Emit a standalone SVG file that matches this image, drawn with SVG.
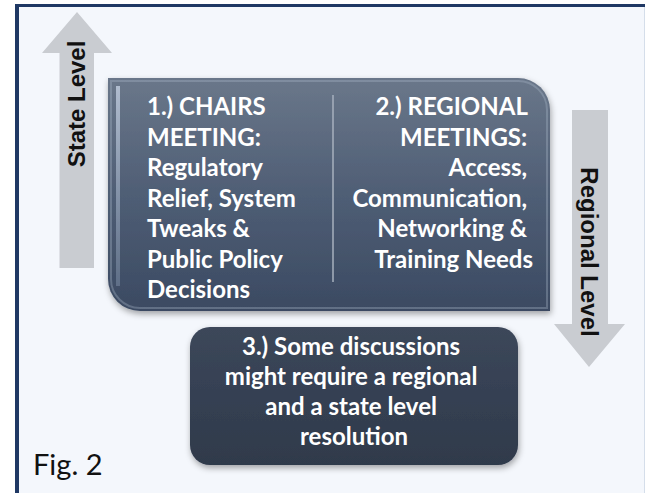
<svg xmlns="http://www.w3.org/2000/svg" width="645" height="493" viewBox="0 0 645 493">
<defs>
<style>
.box-text{font-family:Lato,"Open Sans",sans-serif;font-weight:bold;font-size:24px;fill:#FFFFFF}
.arrow-text{font-family:"Liberation Sans",Arial,sans-serif;font-weight:bold;font-size:24px;fill:#111111}
.arrow{fill:#C9CCD1}
</style>
<linearGradient id="gMain" x1="0" y1="0" x2="0" y2="1">
<stop offset="0" stop-color="#6A778A"/>
<stop offset="0.5" stop-color="#4F5E75"/>
<stop offset="1" stop-color="#3B4A62"/>
</linearGradient>
<linearGradient id="gBottom" x1="0" y1="0" x2="0" y2="1">
<stop offset="0" stop-color="#3C475A"/>
<stop offset="1" stop-color="#2F3A4B"/>
</linearGradient>
<linearGradient id="gStripe" x1="0" y1="0" x2="0" y2="1">
<stop offset="0" stop-color="#B8C4D6" stop-opacity="0.9"/>
<stop offset="1" stop-color="#8FA0B8" stop-opacity="0.4"/>
</linearGradient>
<filter id="shadow" x="-10%" y="-10%" width="125%" height="130%">
<feDropShadow dx="1" dy="3" stdDeviation="3" flood-color="#000000" flood-opacity="0.35"/>
</filter>
</defs>
<rect x="17" y="5" width="628" height="488" fill="#F4F7FC"/>
<line x1="644.5" y1="5" x2="644.5" y2="493" stroke="#D5DEEA" stroke-width="1"/>
<line x1="17" y1="5.5" x2="645" y2="5.5" stroke="#1F3864" stroke-width="3"/>
<line x1="17" y1="4" x2="17" y2="493" stroke="#1F3864" stroke-width="4"/>

<g id="state-level-arrow">
<polygon class="arrow" points="77,12 112,53 94,53 94,268 59.5,268 59.5,53 42,53"/>
<text class="arrow-text" text-anchor="middle" transform="translate(85,104) rotate(-90)">State Level</text>
</g>

<g id="regional-level-arrow">
<polygon class="arrow" points="572,110 608,110 608,324 625,324 589,367 554,324 572,324"/>
<text class="arrow-text" text-anchor="middle" transform="translate(581,252) rotate(90)">Regional Level</text>
</g>

<g id="main-box">
<path d="M108,78 H518 A32,32 0 0 1 550,110 V311 H140 A32,32 0 0 1 108,279 Z" fill="url(#gMain)" filter="url(#shadow)"/>
<path d="M111,81 H517 A29,29 0 0 1 547,110 V308 H140 A29,29 0 0 1 111,279 Z" fill="none" stroke="#A9B6C9" stroke-opacity="0.35" stroke-width="2"/>
<rect x="116" y="86" width="4" height="200" fill="url(#gStripe)"/>
<line x1="333" y1="95" x2="333" y2="282" stroke="#A7B0BE" stroke-width="1.5"/>
<text class="box-text" x="147">
<tspan x="147" y="115">1.) CHAIRS</tspan>
<tspan x="147" y="146">MEETING:</tspan>
<tspan x="147" y="176">Regulatory</tspan>
<tspan x="147" y="207">Relief, System</tspan>
<tspan x="147" y="237">Tweaks &amp;</tspan>
<tspan x="147" y="268">Public Policy</tspan>
<tspan x="147" y="298">Decisions</tspan>
</text>
<text class="box-text" text-anchor="end">
<tspan x="533" y="115">2.) REGIONAL</tspan>
<tspan x="533" y="146">MEETINGS:</tspan>
<tspan x="533" y="176">Access,</tspan>
<tspan x="533" y="207">Communication,</tspan>
<tspan x="533" y="237">Networking &amp;</tspan>
<tspan x="533" y="268">Training Needs</tspan>
</text>
</g>

<g id="bottom-box">
<rect x="190" y="327" width="328" height="138" rx="20" ry="20" fill="url(#gBottom)" filter="url(#shadow)"/>
<text class="box-text" text-anchor="middle">
<tspan x="354" y="355">3.) Some discussions</tspan>
<tspan x="354" y="385">might require a regional</tspan>
<tspan x="354" y="415">and a state level</tspan>
<tspan x="354" y="445">resolution</tspan>
</text>
</g>

<g id="fig-label">
<text x="33" y="475" font-family="Lato,'Open Sans',sans-serif" font-size="29" fill="#111111">Fig. 2</text>
</g>

<g id="connectors"></g>
</svg>
